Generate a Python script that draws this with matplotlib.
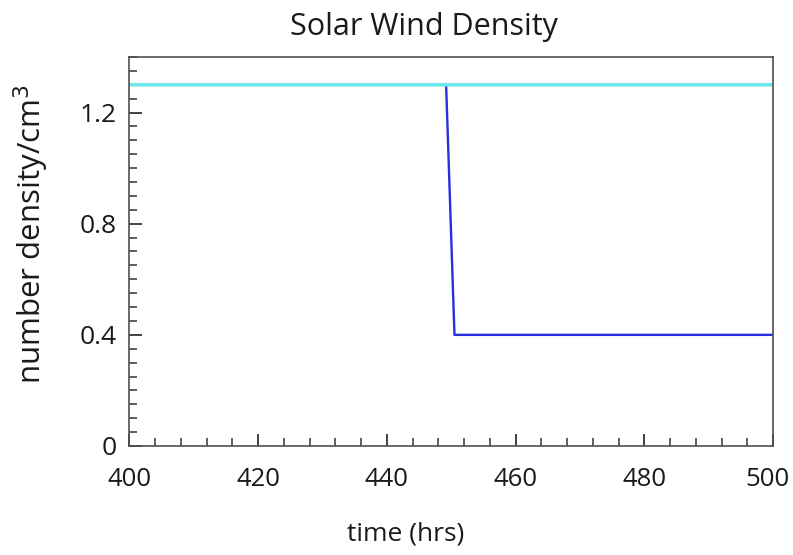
import numpy as np
import matplotlib.pyplot as plt
import matplotlib.transforms as mtransforms
from matplotlib.ticker import MultipleLocator

plt.rcParams['font.family'] = ['Open Sans', 'DejaVu Sans']

# solar wind density series (hrs, cm^-3)
time_steady = [400, 500]
density_steady = [1.3, 1.3]

time_drop = [400, 449.2, 450.5, 500]
density_drop = [1.3, 1.3, 0.4, 0.4]

fig = plt.figure(figsize=(7.93, 5.55), dpi=100)
ax = fig.add_axes([0.1633, 0.1964, 0.8115, 0.7009])

ax.plot(time_drop, density_drop, color='#2a2ee0', lw=1.7, snap=False)
ax.plot(time_steady, density_steady, color='#6fe8ec', lw=2.6, snap=False)

ax.set_xlim(400, 500)
ax.set_ylim(0, 1.4)
ax.xaxis.set_major_locator(MultipleLocator(20))
ax.xaxis.set_minor_locator(MultipleLocator(4))
ax.yaxis.set_major_locator(MultipleLocator(0.4))
ax.yaxis.set_minor_locator(MultipleLocator(0.05))
ax.yaxis.set_major_formatter(plt.FuncFormatter(lambda v, p: '0' if v == 0 else f'{v:.1f}'))

for s in ax.spines.values():
    s.set_color('#505050')
    s.set_linewidth(1.2)

ax.tick_params(which='both', direction='in', color='#333333', labelcolor='#1a1a1a',
               top=False, right=False)
ax.tick_params(which='major', length=9, width=1.3)
ax.tick_params(which='minor', length=6, width=1.1)
ax.tick_params(axis='x', which='major', pad=15, labelsize=18.5)
ax.tick_params(axis='y', which='major', pad=9, labelsize=19)

# nudge the 500 label so it stays inside the canvas
fig.canvas.draw()
for lab in ax.get_xticklabels():
    if lab.get_text() == '500':
        lab.set_transform(lab.get_transform() +
                          mtransforms.ScaledTranslation(-4 / 72, 0, fig.dpi_scale_trans))

ax.set_title('Solar Wind Density', fontsize=22, pad=16, color='#1a1a1a', x=0.457)
ax.set_xlabel('time (hrs)', fontsize=19, color='#1a1a1a')
ax.set_ylabel('number density/cm$^3$', fontsize=22.5, color='#1a1a1a')
ax.xaxis.set_label_coords(0.429, -0.195)
ax.yaxis.set_label_coords(-0.122, 0.545)

fig.savefig('out.png', dpi=100)
